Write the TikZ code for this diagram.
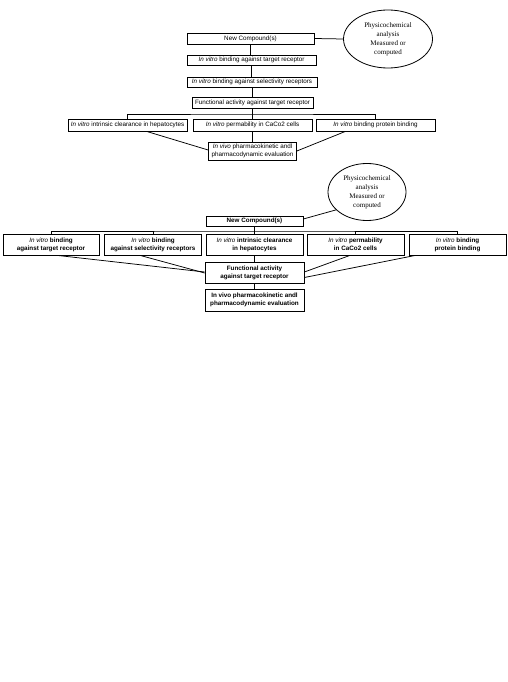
\documentclass[tikz,border=0pt]{standalone}
\usepackage{fontspec}
\setmainfont{Liberation Serif}
\newfontfamily\arialf{Liberation Sans}
\usetikzlibrary{shapes.geometric,calc}
\begin{document}
\begin{tikzpicture}[x=1pt,y=-1pt,
  every path/.style={line width=0.75pt},
  sbox/.style={draw, line width=0.75pt, rectangle, inner sep=0pt, align=center,
     font=\arialf\fontsize{6.3}{7.5}\selectfont},
  bbox/.style={draw, line width=0.75pt, rectangle, inner sep=0pt, align=center,
     font=\arialf\bfseries\fontsize{6.3}{8}\selectfont},
  ell/.style={draw, line width=0.8pt, ellipse, inner sep=0pt, align=center,
     font=\fontsize{7}{9}\selectfont}]
\useasboundingbox (0,0) rectangle (508,682);
% ---------- top diagram ----------
\node[sbox, minimum width=127, minimum height=11] (nc1) at (250.5,38.5) {New Compound(s)};
\node[ell, minimum width=89, minimum height=58] (e1) at (388,39) {Physicochemical\\analysis\\Measured or\\computed};
\node[sbox, minimum width=129, minimum height=10] (t2) at (251.5,60) {\textit{In vitro} binding against target receptor};
\node[sbox, minimum width=130, minimum height=10] (t3) at (252,82) {\textit{In vitro} binding against selectivity receptors};
\node[sbox, minimum width=121, minimum height=11] (t4) at (252.5,102.5) {Functional activity against target receptor};
\node[sbox, minimum width=119, minimum height=12] (A) at (127.5,125) {\textit{In vitro} intrinsic clearance in hepatocytes};
\node[sbox, minimum width=119, minimum height=12] (B) at (252.5,125) {\textit{In vitro} permability in CaCo2 cells};
\node[sbox, minimum width=119, minimum height=12] (C) at (375.5,125) {\textit{In vitro} binding protein binding};
\node[sbox, minimum width=88, minimum height=18] (iv1) at (252.5,151) {\textit{In vivo} pharmacokinetic andl\\pharmacodynamic evaluation};
\coordinate (br1) at (252.5,114);
\draw (nc1.east) -- (e1.west);
\draw (nc1.south) -- (nc1.south |- t2.north);
\draw (t2.south) -- (t2.south |- t3.north);
\draw (t3.south) -- (t3.south |- t4.north);
\draw (t4.south) -- (B.north);
\draw (A.north) |- (br1) -| (C.north);
\draw (B.south) -- (iv1.north);
\draw ($(A.south)+(19,0)$) -- ($(iv1.west)+(0,-1)$);
\draw ($(C.south)+(-30,0)$) -- (iv1.east);
% ---------- bottom diagram ----------
\node[ell, minimum width=78, minimum height=57] (e2) at (367,192) {Physicochemical\\analysis\\Measured or\\computed};
\node[bbox, minimum width=97, minimum height=10] (nc2) at (254.5,221) {New Compound(s)};
\node[bbox, minimum width=96, minimum height=21] (R1) at (51,244.5) {\textmd{\textit{In vitro}} binding\\against target receptor};
\node[bbox, minimum width=97, minimum height=21] (R2) at (153,244.5) {\textmd{\textit{In vitro}} binding\\against selectivity receptors};
\node[bbox, minimum width=97, minimum height=21] (R3) at (254.5,244.5) {\textmd{\textit{In vitro}} intrinsic clearance\\in hepatocytes};
\node[bbox, minimum width=97, minimum height=21] (R4) at (355.5,244.5) {\textmd{\textit{In vitro}} permability\\in CaCo2 cells};
\node[bbox, minimum width=97, minimum height=21] (R5) at (457.5,244.5) {\textmd{\textit{In vitro}} binding\\protein binding};
\node[bbox, minimum width=99, minimum height=21] (F) at (254.5,272.5) {Functional activity\\against target receptor};
\node[bbox, minimum width=99, minimum height=22] (V) at (254.5,300) {In vivo pharmacokinetic andl\\pharmacodynamic evaluation};
\coordinate (br2) at (254.5,231);
\draw ($(nc2.east)+(0,-2)$) -- (e2.210);
\draw (nc2.south) -- (R3.north);
\draw (R1.north) |- (br2) -| (R5.north);
\draw (R2.north) -- (R2.north |- br2);
\draw (R4.north) -- (R4.north |- br2);
\draw (R3.south) -- (F.north);
\draw (F.south) -- (V.north);
\draw ($(R1.south)+(6,0)$) -- ($(F.west)+(0,-0.5)$);
\draw ($(R2.south)+(-13,0)$) -- ($(F.west)+(0,0.5)$);
\draw ($(R4.south)+(-5.5,0)$) -- ($(F.east)+(0,-0.5)$);
\draw ($(R5.south)+(-42,0)$) -- ($(F.east)+(0,5)$);
\end{tikzpicture}
\end{document}
